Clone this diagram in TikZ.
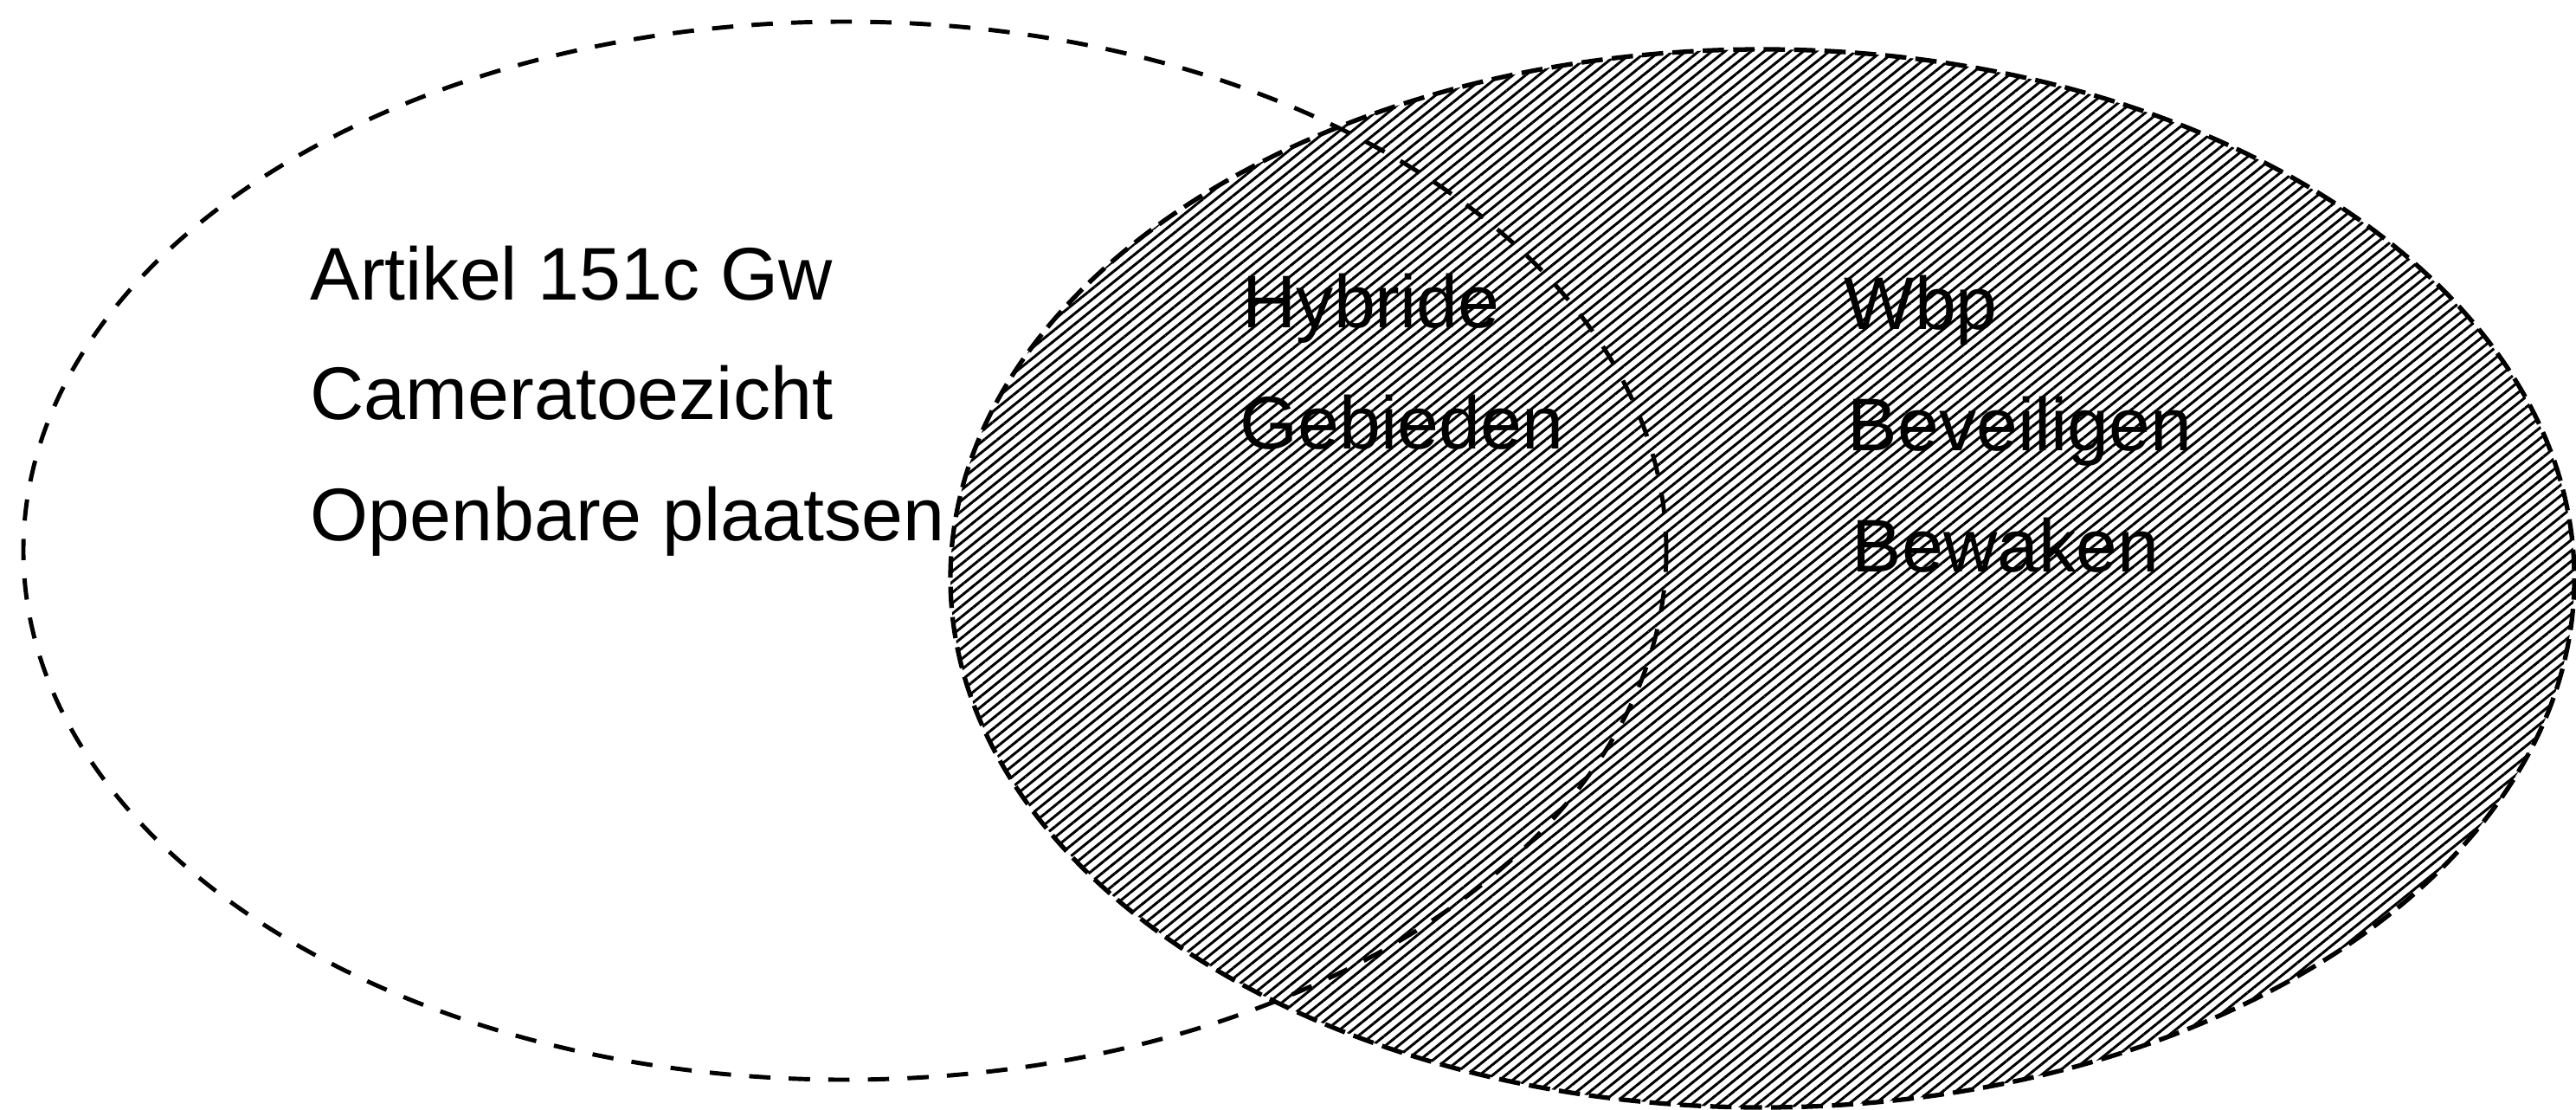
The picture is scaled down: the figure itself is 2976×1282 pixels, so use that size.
\documentclass[tikz,border=0pt]{standalone}
\usepackage{fontspec}
\setmainfont{Liberation Sans}
\usetikzlibrary{patterns.meta}
\begin{document}
\begin{tikzpicture}[x=0.01cm,y=-0.01cm,
  lbl/.style={anchor=base west,inner sep=0pt,font=\fontsize{24.5pt}{29pt}\selectfont},
  leftborder/.style={line width=1.4pt,dash pattern=on 7pt off 6pt},
  rightborder/.style={line width=1.5pt,dash pattern=on 7pt off 3pt},
  hatch/.style={pattern={Lines[angle=39,distance=2.7pt,line width=0.85pt]}}]
\useasboundingbox (0,0) rectangle (2976,1282);
\fill[white] (0,0) rectangle (2976,1282);
% hatched right set
\fill[hatch] (2036,668) ellipse [x radius=938, y radius=611];
% borders
\draw[leftborder] (976,636) ellipse [x radius=949, y radius=611];
\draw[rightborder] (2036,668) ellipse [x radius=938, y radius=611];
% texts
\node[lbl] (a1) at (358,346) {Artikel 151c Gw};
\node[lbl] (a2) at (358,484) {Cameratoezicht};
\node[lbl] (a3) at (358,624) {Openbare plaatsen};
\node[lbl] (h1) at (1435,378) {Hybride};
\node[lbl] (h2) at (1432,518) {Gebieden};
\node[lbl] (w1) at (2130,380) {Wbp};
\node[lbl] (w2) at (2134,520) {Beveiligen};
\node[lbl] (w3) at (2139,660) {Bewaken};
\end{tikzpicture}
\end{document}
